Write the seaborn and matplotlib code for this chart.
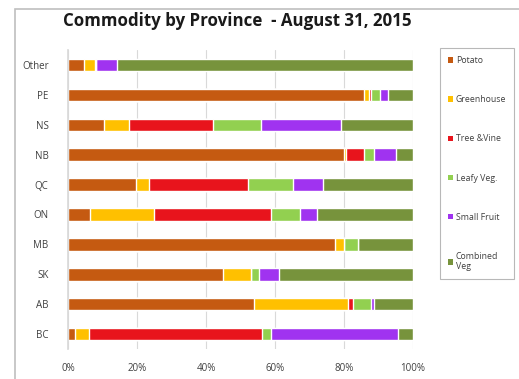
import numpy as np
import pandas as pd
import matplotlib
matplotlib.use("Agg")
import matplotlib.pyplot as plt
import seaborn as sns
from matplotlib.patches import Patch, Rectangle

provinces = ["Other", "PE", "NS", "NB", "QC", "ON", "MB", "SK", "AB", "BC"]
series_names = ["Potato", "Greenhouse", "Tree &Vine", "Leafy Veg.", "Small Fruit", "Combined\nVeg"]
potato      = [4.7, 85.7, 10.3, 79.9, 19.7, 6.3, 77.3, 44.9, 53.8, 2.1]
greenhouse  = [3.0, 1.4, 7.5, 0.7, 3.9, 18.7, 2.6, 8.1, 27.4, 3.9]
tree_vine   = [0.5, 0.7, 24.1, 5.1, 28.5, 33.8, 0.0, 0.0, 1.3, 50.2]
leafy_veg   = [0.0, 2.7, 14.1, 2.9, 13.0, 8.3, 4.1, 2.3, 5.3, 2.6]
small_fruit = [5.9, 2.3, 23.2, 6.3, 8.8, 5.1, 0.0, 5.9, 0.8, 36.9]
combined    = [85.9, 7.2, 20.8, 5.1, 26.1, 27.8, 16.0, 38.8, 11.4, 4.3]
xticks = [0, 20, 40, 60, 80, 100]
colors = ["#C55A11", "#FFC000", "#E8141C", "#92D050", "#A033F0", "#77933C"]

sns.set_theme(style="white")
plt.rcParams['font.family'] = ['Open Sans', 'DejaVu Sans']

series = [potato, greenhouse, tree_vine, leafy_veg, small_fruit, combined]
cum = np.zeros(len(provinces))
cums = []
for s in series:
    cum = cum + np.array(s)
    cums.append(cum.copy())

fig = plt.figure(figsize=(5.19, 3.79), dpi=100)
ax = fig.add_axes([0.131, 0.079, 0.665, 0.789])

for i in range(len(series) - 1, -1, -1):
    d = pd.DataFrame({"Province": provinces, "val": cums[i]})
    sns.barplot(data=d, x="val", y="Province", orient="h", color=colors[i],
                width=0.42, ax=ax, saturation=1, order=provinces)

ax.set_xlim(0, 100)
ax.set_xticks(xticks)
ax.set_xticklabels([f"{t}%" for t in xticks], fontsize=7, color="#404040")
ax.tick_params(axis="y", labelsize=7, colors="#404040", length=0, pad=14)
ax.tick_params(axis="x", length=0, pad=10)
ax.set_xlabel("")
ax.set_ylabel("")
ax.xaxis.grid(True, color="#D9D9D9", linewidth=0.8)
ax.set_axisbelow(True)
for sp in ["top", "right", "bottom"]:
    ax.spines[sp].set_visible(False)
ax.spines["left"].set_color("#D9D9D9")

fig.text(0.458, 0.945, "Commodity by Province  - August 31, 2015", ha="center",
         va="center", fontsize=12.2, fontweight="bold", color="#1a1a1a")

handles = [Patch(facecolor=c, edgecolor="none") for c in colors]
leg = fig.legend(handles, series_names, loc="upper left", bbox_to_anchor=(0.848, 0.873),
                 fontsize=6.3, frameon=True, labelspacing=3.45, handlelength=0.6,
                 handleheight=0.6, handletextpad=0.3, borderpad=0.9, fancybox=False,
                 borderaxespad=0)
leg.get_frame().set_edgecolor("#A6A6A6")
leg.get_frame().set_linewidth(0.8)
for t in leg.get_texts():
    t.set_color("#404040")

fig.add_artist(Rectangle((15 / 519, -0.1), 1.2, 1 - 9 / 379 + 0.1, transform=fig.transFigure,
                         fill=False, edgecolor="#BFBFBF", linewidth=1.2))

fig.savefig("out.png", dpi=100)
